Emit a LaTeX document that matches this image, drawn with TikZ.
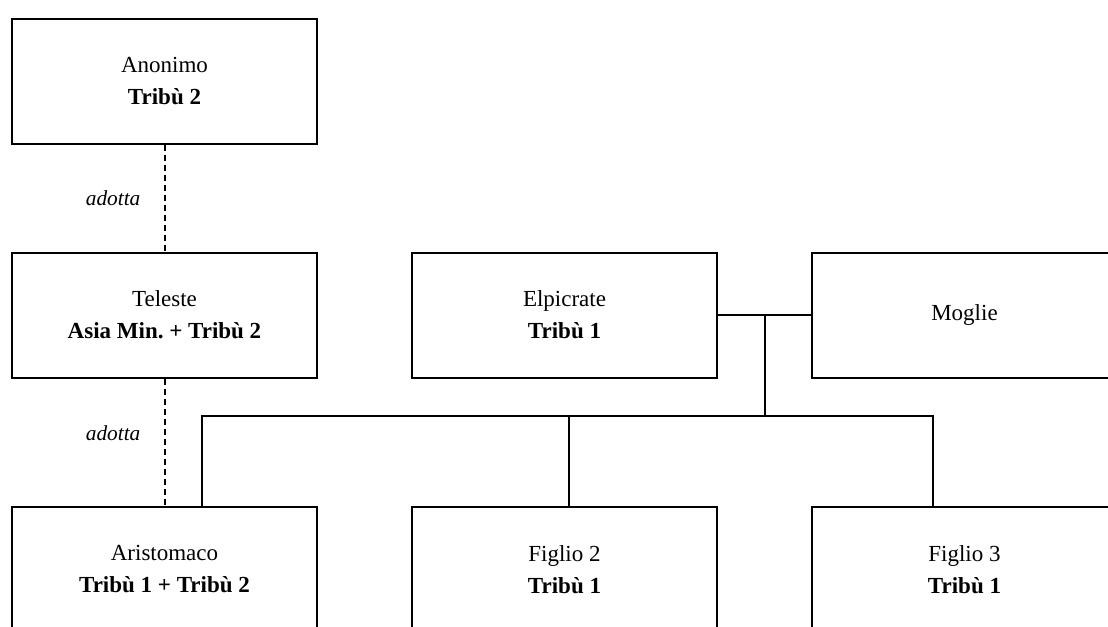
\documentclass[tikz,border=0pt]{standalone}
\usepackage{fontspec}
\setmainfont{Liberation Serif}
\usepackage{tikz}
\usetikzlibrary{calc}
\usetikzlibrary{positioning}
\frenchspacing
\tikzset{
  person/.style={draw,line width=1.5pt,inner sep=0pt,align=center,
    minimum width=228.75pt,minimum height=93.75pt,
    font=\fontsize{17.25pt}{24pt}\selectfont},
  link/.style={line width=1.5pt},
  adopt/.style={line width=1.5pt,dash pattern=on 5pt off 2.5pt},
  adoptlabel/.style={font=\fontsize{16pt}{20pt}\selectfont\itshape}
}

\begin{document}
\begin{tikzpicture}[x=0.75pt,y=-0.75pt]
  %
  \useasboundingbox (0,0) rectangle (1108,626);
  \clip (0,0) rectangle (1108,626);

  % first row
  \node[person] (anonimo) at (164.5,81) {Anonimo\\\textbf{Tribù 2}};

  % second row
  \node[person] (teleste) at (164.5,315) {Teleste\\\textbf{Asia Min.\ + Tribù 2}};
  \node[person] (elpicrate) at (564.5,315) {Elpicrate\\\textbf{Tribù 1}};
  \node[person] (moglie) at (964.5,315) {Moglie};

  % third row
  \node[person] (aristomaco) at (164.5,569.5) {Aristomaco\\\textbf{Tribù 1 + Tribù 2}};
  \node[person] (figlio2) at (564.5,569.5) {Figlio 2\\\textbf{Tribù 1}};
  \node[person] (figlio3) at (964.5,569.5) {Figlio 3\\\textbf{Tribù 1}};

  % adoptions
  \draw[adopt] (anonimo) -- node[adoptlabel,left=14pt] (adotta1) {adotta} (teleste);
  \draw[adopt] (teleste) -- node[adoptlabel,left=14pt,pos=0.43] (adotta2) {adotta} (aristomaco);

  % marriage and children
  \coordinate (wed) at ($(elpicrate.east)!0.5!(moglie.west)$);
  \coordinate (bus) at ($(wed)+(0,101)$);
  \draw[link] (elpicrate) -- (moglie);
  \draw[link] (wed) -- (bus);
  \draw[link] (bus) -| ($(aristomaco.north)+(37.5,0)$);
  \draw[link] (bus) -| ($(figlio2.north)+(4.5,0)$);
  \draw[link] (bus) -| ($(figlio3.north)+(-31.5,0)$);

\end{tikzpicture}
\end{document}
